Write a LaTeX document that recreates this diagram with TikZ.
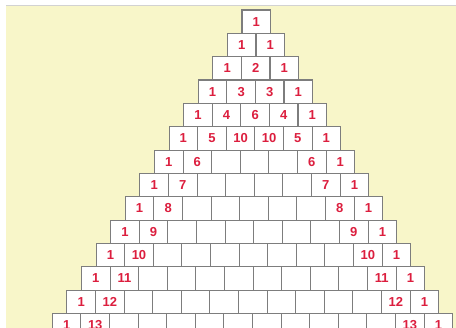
\documentclass[tikz,border=0pt]{standalone}
\usepackage{fontspec}
\setmainfont{Liberation Sans}
\definecolor{bgyellow}{RGB}{248,246,201}
\definecolor{numred}{RGB}{220,30,62}
\definecolor{cellline}{RGB}{125,125,125}
\begin{document}
\begin{tikzpicture}[x=1pt,y=-1pt,
  cell/.style={draw=cellline,line width=1.1pt,fill=white,minimum width=28.6pt,minimum height=23.35pt,inner sep=0pt,outer sep=0pt,font=\bfseries\fontsize{13}{13}\selectfont,text=numred}]
\useasboundingbox (0,0) rectangle (456,328);
\clip (0,0) rectangle (456,328);
\fill[white] (0,0) rectangle (456,328);
\fill[bgyellow] (6,5.5) rectangle (456,328);
\draw[gray!35, line width=0.8pt] (6,5.5) -- (456,5.5);
\foreach \r in {0,...,13} {
  \pgfmathsetmacro{\cx}{256.3-0.29*\r}
  \pgfmathsetmacro{\cy}{10+23.35*\r+11.675}
  \foreach \k in {0,...,\r} {
    \pgfmathsetmacro{\xx}{\cx+(\k-\r/2)*28.6}
    \ifnum\r<6
      \pgfmathtruncatemacro{\lbl}{round(factorial(\r)/(factorial(\k)*factorial(\r-\k)))}
    \else
      \pgfmathtruncatemacro{\rmone}{\r-1}
      \ifnum\k=0 \def\lbl{1}\else
        \ifnum\k=\r \def\lbl{1}\else
          \ifnum\k=1 \edef\lbl{\r}\else
            \ifnum\k=\rmone \edef\lbl{\r}\else \def\lbl{}\fi
          \fi
        \fi
      \fi
    \fi
    \node[cell] (b-\r-\k) at (\xx,\cy) {\lbl};
  }
}
\end{tikzpicture}
\end{document}
